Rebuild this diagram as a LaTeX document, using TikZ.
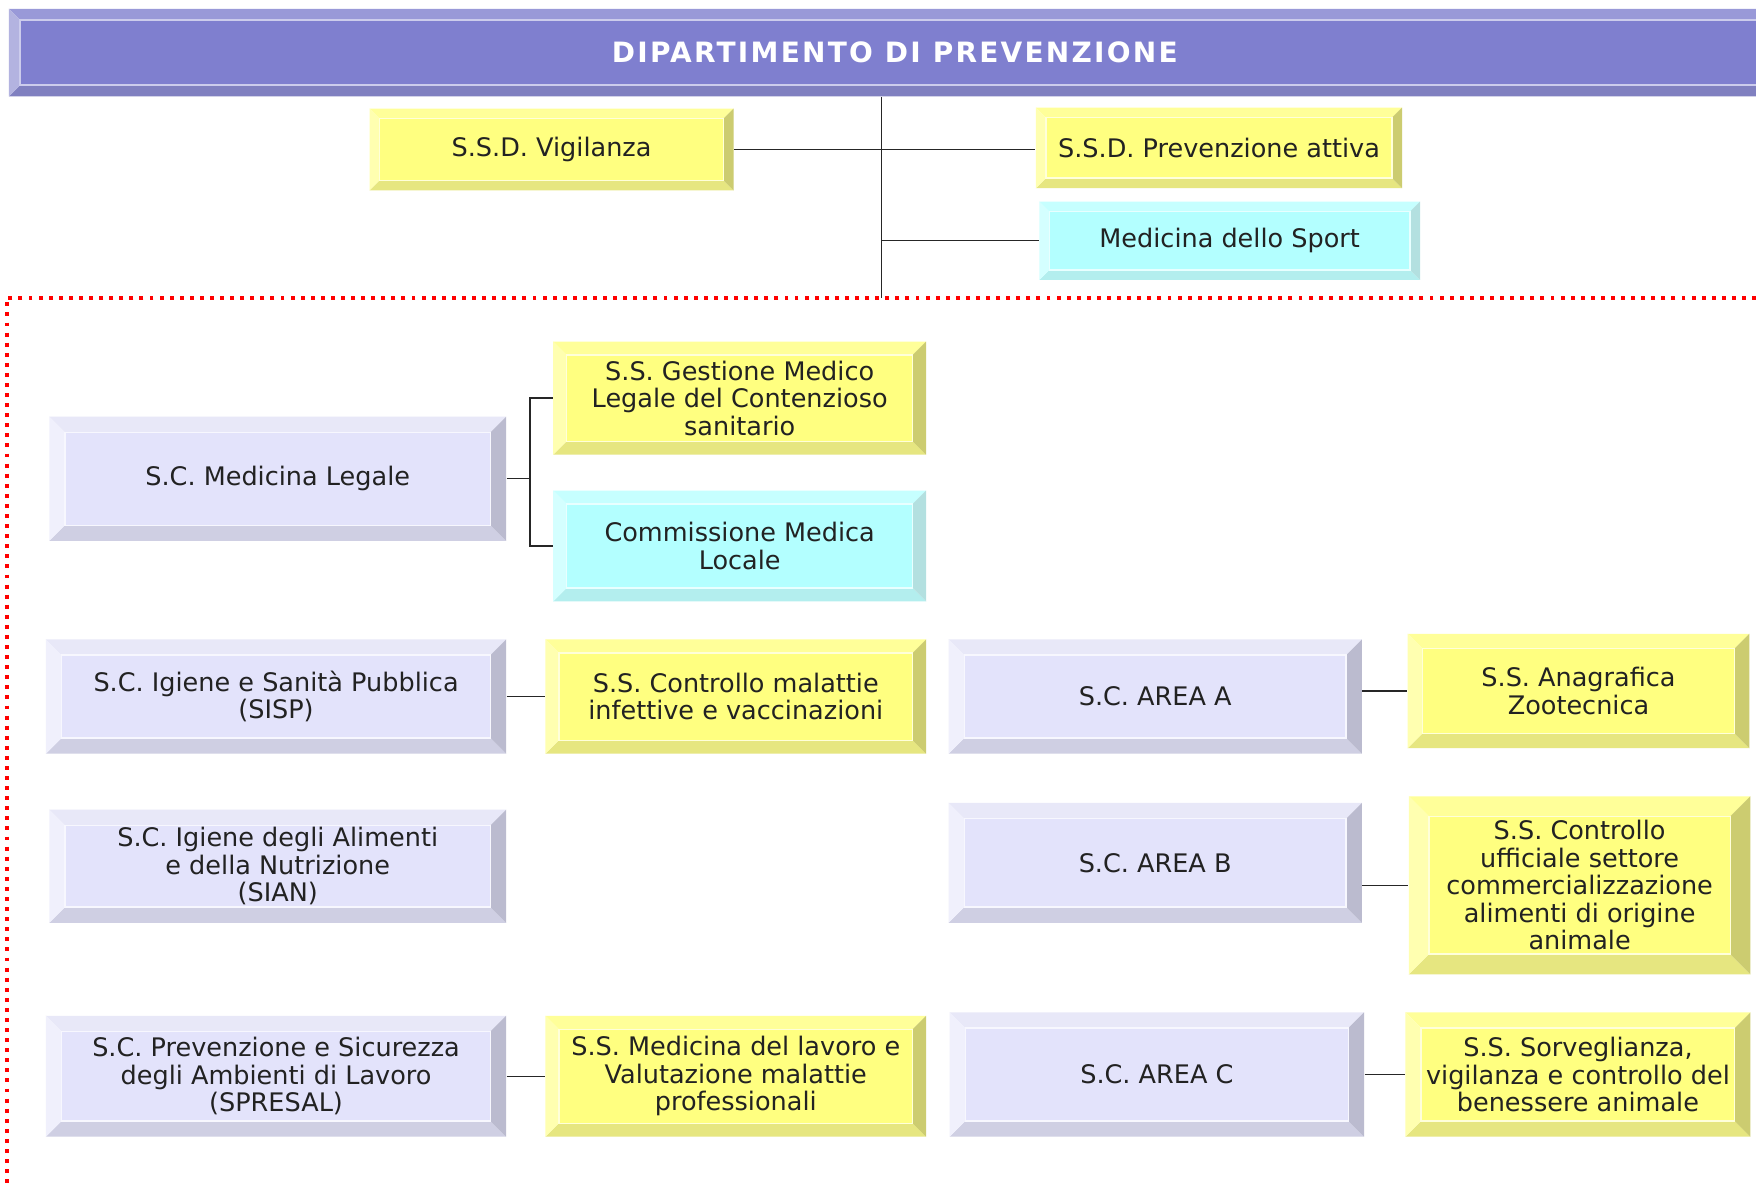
\documentclass[tikz,border=0pt]{standalone}
\usepackage{fontspec}
\setmainfont{DejaVu Sans}
\definecolor{YI}{HTML}{FFFF80}\definecolor{YT}{HTML}{FFFF99}\definecolor{YL}{HTML}{FFFFB0}\definecolor{YR}{HTML}{CCCC70}\definecolor{YB}{HTML}{E6E680}
\definecolor{LI}{HTML}{E3E3FB}\definecolor{LT}{HTML}{E8E8F8}\definecolor{LL}{HTML}{F0F0FC}\definecolor{LR}{HTML}{BBBBCF}\definecolor{LB}{HTML}{CFCFE3}
\definecolor{CI}{HTML}{B3FFFF}\definecolor{CT}{HTML}{C6FFFF}\definecolor{CL}{HTML}{D4FFFF}\definecolor{CR}{HTML}{B3E0E0}\definecolor{CB}{HTML}{B3EEEE}
\definecolor{TI}{HTML}{7F7FCF}\definecolor{TT}{HTML}{9999D8}\definecolor{TL}{HTML}{B3B3E0}\definecolor{TR}{HTML}{7070B8}\definecolor{TB}{HTML}{8080C0}
\definecolor{txt}{HTML}{222222}
\newcommand\bev[8]{%
  \fill[#7T] (#2,#3) -- (#4,#3) -- ({#4-#6},{#3+#6}) -- ({#2+#6},{#3+#6}) -- cycle;
  \fill[#7B] (#2,#5) -- (#4,#5) -- ({#4-#6},{#5-#6}) -- ({#2+#6},{#5-#6}) -- cycle;
  \fill[#7L] (#2,#3) -- ({#2+#6},{#3+#6}) -- ({#2+#6},{#5-#6}) -- (#2,#5) -- cycle;
  \fill[#7R] (#4,#3) -- ({#4-#6},{#3+#6}) -- ({#4-#6},{#5-#6}) -- (#4,#5) -- cycle;
  \filldraw[fill=#7I, draw=white!70!#7I, line width=0.6pt] ({#2+#6},{#3+#6}) rectangle ({#4-#6},{#5-#6});
  \node[boxtext, minimum width={(#4-#2)*0.5pt}, minimum height={(#5-#3)*0.5pt}] (#1) at ({(#2+#4)/2},{(#3+#5)/2}) {#8};
}
\begin{document}
\begin{tikzpicture}[x=0.5pt,y=-0.5pt,
  boxtext/.style={inner sep=0pt, align=center, text=txt, font=\fontsize{11.4}{12.3}\selectfont},
  conn/.style={draw=black!85, line width=0.6pt},
  reddot/.style={draw=red, line width=1.75pt, dash pattern=on 1.75pt off 2.75pt}]
\useasboundingbox (0,0) rectangle (1568,1059);
\fill[white] (0,0) rectangle (1568,1059);
% title
\fill[TT] (8,8) -- (1590,8) -- (1580,18) -- (18,18) -- cycle;
\fill[TB] (8,86) -- (1590,86) -- (1580,76) -- (18,76) -- cycle;
\fill[TL] (8,8) -- (18,18) -- (18,76) -- (8,86) -- cycle;
\filldraw[fill=TI, draw=white!60!TI, line width=0.6pt] (18,18) rectangle (1600,76);
\node[inner sep=0pt, minimum width={1582*0.5pt}, minimum height={78*0.5pt}, text=white,
  font=\fontsize{12.5}{14}\bfseries\addfontfeatures{LetterSpace=8}] (title) at (799,47) {DIPARTIMENTO DI PREVENZIONE};
% top boxes
\bev{vig}{330}{97}{655}{170}{9}{Y}{S.S.D. Vigilanza}
\bev{prev}{925}{96}{1252}{168}{9}{Y}{S.S.D. Prevenzione attiva}
\bev{sport}{928}{180}{1268}{250}{9}{C}{Medicina dello Sport}
% red frame
\draw[reddot] (1568,266) -| (6,1059);
% trunk
\coordinate (trunkend) at (787,266);
\draw[conn] (title.south -| trunkend) -- (trunkend);
\draw[conn] (vig.east) -- (vig.east -| prev.west);
\draw[conn] (trunkend |- sport.west) -- (sport.west);
% boxes
\bev{mleg}{44}{372}{452}{483}{14}{L}{S.C. Medicina Legale}
\bev{gest}{494}{305}{827}{406}{12}{Y}{S.S. Gestione Medico\\Legale del Contenzioso\\sanitario}
\bev{comm}{494}{438}{827}{537}{12}{C}{Commissione Medica\\Locale}
\bev{sisp}{41}{571}{452}{673}{14}{L}{S.C. Igiene e Sanità Pubblica\\(SISP)}
\bev{cmi}{487}{571}{827}{673}{12}{Y}{S.S. Controllo malattie\\infettive e vaccinazioni}
\bev{areaA}{847}{571}{1216}{673}{14}{L}{S.C. AREA A}
\bev{anag}{1257}{566}{1562}{668}{13}{Y}{S.S. Anagrafica\\Zootecnica}
\bev{sian}{44}{723}{452}{824}{14}{L}{S.C. Igiene degli Alimenti\\e della Nutrizione\\(SIAN)}
\bev{areaB}{847}{717}{1216}{824}{14}{L}{S.C. AREA B}
\bev{cuff}{1258}{711}{1563}{870}{18}{Y}{S.S. Controllo\\ufficiale settore\\commercializzazione\\alimenti di origine\\animale}
\bev{spre}{41}{907}{452}{1015}{14}{L}{S.C. Prevenzione e Sicurezza\\degli Ambienti di Lavoro\\(SPRESAL)}
\bev{mlav}{487}{907}{827}{1015}{12}{Y}{S.S. Medicina del lavoro e\\Valutazione malattie\\professionali}
\bev{areaC}{848}{904}{1218}{1015}{14}{L}{S.C. AREA C}
\bev{sorv}{1255}{904}{1563}{1015}{14}{Y}{S.S. Sorveglianza,\\vigilanza e controllo del\\benessere animale}
% connectors
\draw[conn] (mleg.east) -- ++(21,0) coordinate (mj) |- (gest.west);
\draw[conn] (mj) |- (comm.west);
\draw[conn] (sisp.east) -- (cmi.west);
\draw[conn] (anag.west -| areaA.east) -- (anag.west);
\draw[conn] (cuff.west -| areaB.east) -- (cuff.west);
\draw[conn] (spre.east) -- (mlav.west);
\draw[conn] (areaC.east) -- (sorv.west);
\end{tikzpicture}
\end{document}
